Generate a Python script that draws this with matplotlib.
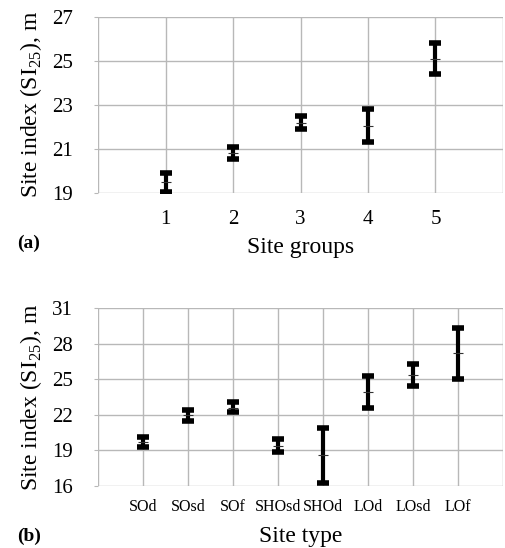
import numpy as np
import matplotlib.pyplot as plt

plt.rcParams['font.family'] = ['Liberation Serif', 'DejaVu Serif']
plt.rcParams['mathtext.fontset'] = 'custom'
plt.rcParams['mathtext.rm'] = 'Liberation Serif'

# panel (a): site groups
groups = [1, 2, 3, 4, 5]
mean_a = [19.5, 20.8, 22.2, 22.05, 25.1]
low_a = [19.05, 20.55, 21.9, 21.3, 24.4]
high_a = [19.9, 21.1, 22.5, 22.8, 25.8]

# panel (b): site types
types = ['SOd', 'SOsd', 'SOf', 'SHOsd', 'SHOd', 'LOd', 'LOsd', 'LOf']
mean_b = [19.7, 21.95, 22.6, 19.4, 18.6, 23.9, 25.35, 27.2]
low_b = [19.25, 21.5, 22.2, 18.85, 16.3, 22.6, 24.4, 25.0]
high_b = [20.1, 22.4, 23.1, 20.0, 20.85, 25.25, 26.3, 29.35]

ylabel = r'Site index (SI$_{\mathrm{25}}$), m'
grid_c = '#b8b8b8'


def draw_bars(ax, x, m, lo, hi):
    m = np.array(m)
    yerr = [m - np.array(lo), np.array(hi) - m]
    ax.errorbar(x, m, yerr=yerr, fmt='none', ecolor='black',
                elinewidth=3.0, capsize=4, capthick=4.0, zorder=3)
    ax.plot(x, m, linestyle='none', marker='_', markersize=7,
            markeredgewidth=0.8, color='#333333', zorder=4)


def style(ax, xpad):
    for s in ax.spines.values():
        s.set_visible(False)
    ax.grid(True, color=grid_c, linewidth=1.0)
    ax.set_axisbelow(True)
    ax.tick_params(axis='x', length=0, pad=xpad)
    ax.tick_params(axis='y', length=3, color=grid_c, pad=15)


fig = plt.figure(figsize=(5.06, 5.48), dpi=100)

ax1 = fig.add_axes([0.194, 0.648, 0.800, 0.321])
draw_bars(ax1, groups, mean_a, low_a, high_a)
ax1.set_xlim(0, 6)
ax1.set_ylim(19, 27)
ax1.set_xticks(range(7))
ax1.set_xticklabels([''] + [str(g) for g in groups] + [''], fontsize=15)
ax1.set_yticks([19, 21, 23, 25, 27])
ax1.set_yticklabels(['19', '21', '23', '25', '27'], fontsize=15)
style(ax1, 12)
ax1.set_xlabel('Site groups', fontsize=17, labelpad=6)
ax1.set_ylabel(ylabel, fontsize=17, labelpad=6)
fig.text(0.033, 0.556, '(a)', fontsize=14, fontweight='bold', va='center')

ax2 = fig.add_axes([0.194, 0.113, 0.800, 0.325])
xb = np.arange(1, len(types) + 1)
draw_bars(ax2, xb, mean_b, low_b, high_b)
ax2.set_xlim(0, 9)
ax2.set_ylim(16, 31)
ax2.set_xticks(range(10))
ax2.set_xticklabels([''] + types + [''], fontsize=11.5)
ax2.set_yticks([16, 19, 22, 25, 28, 31])
ax2.set_yticklabels(['16', '19', '22', '25', '28', '31'], fontsize=15)
style(ax2, 9)
ax2.set_xlabel('Site type', fontsize=17, labelpad=8)
ax2.set_ylabel(ylabel, fontsize=17, labelpad=6)
fig.text(0.033, 0.021, '(b)', fontsize=14, fontweight='bold', va='center')

fig.savefig('out.png', dpi=100)
